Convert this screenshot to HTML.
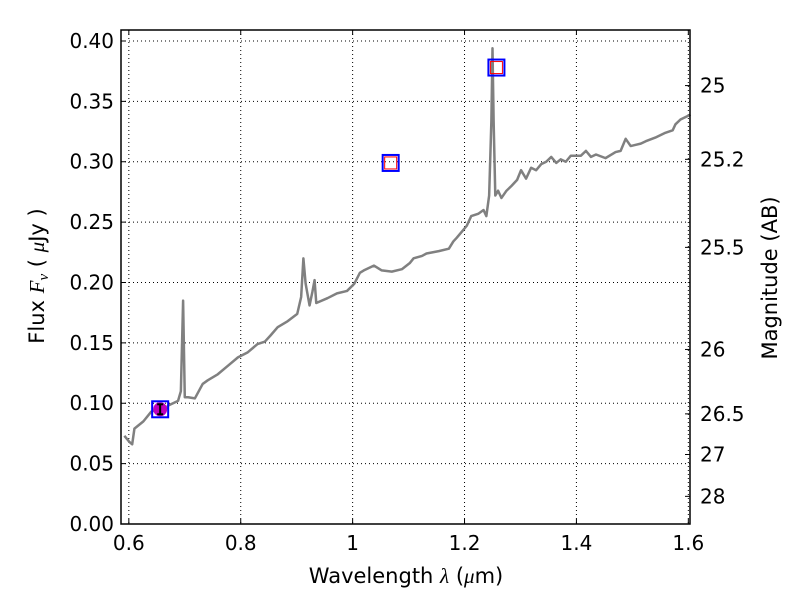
<!DOCTYPE html>
<html><head><meta charset="utf-8"><style>
body{margin:0;background:#fff}
svg text{font-family:"DejaVu Sans","Liberation Sans",sans-serif;fill:#000}
</style></head><body>
<svg id="c" width="800" height="600" viewBox="0 0 800 600"></svg>
<script>
const wave=[0.592,0.601,0.606,0.610,0.626,0.640,0.652,0.661,0.670,0.679,0.688,0.693,0.697,0.700,0.706,0.718,0.725,0.732,0.741,0.759,0.777,0.795,0.812,0.830,0.843,0.853,0.866,0.884,0.901,0.908,0.912,0.916,0.923,0.928,0.932,0.935,0.955,0.972,0.990,1.003,1.013,1.020,1.038,1.052,1.070,1.088,1.102,1.109,1.124,1.132,1.154,1.172,1.180,1.186,1.195,1.204,1.212,1.225,1.234,1.239,1.244,1.248,1.250,1.252,1.255,1.260,1.266,1.275,1.284,1.294,1.301,1.310,1.319,1.328,1.337,1.346,1.355,1.364,1.372,1.381,1.390,1.408,1.417,1.426,1.435,1.452,1.470,1.479,1.488,1.497,1.515,1.524,1.541,1.559,1.572,1.577,1.586,1.604];
const flux=[0.073,0.068,0.066,0.079,0.085,0.093,0.095,0.091,0.098,0.100,0.102,0.110,0.185,0.105,0.105,0.104,0.110,0.116,0.119,0.124,0.131,0.138,0.142,0.149,0.151,0.156,0.163,0.168,0.174,0.188,0.220,0.199,0.181,0.192,0.202,0.183,0.187,0.191,0.193,0.199,0.208,0.210,0.214,0.210,0.209,0.211,0.216,0.220,0.222,0.224,0.226,0.228,0.234,0.237,0.242,0.247,0.255,0.257,0.260,0.255,0.272,0.334,0.394,0.334,0.272,0.276,0.270,0.276,0.280,0.285,0.293,0.286,0.295,0.293,0.298,0.300,0.304,0.299,0.302,0.300,0.305,0.305,0.309,0.304,0.306,0.303,0.308,0.309,0.319,0.313,0.315,0.317,0.320,0.324,0.326,0.331,0.335,0.339];
const photWave=[0.656,1.068,1.257];
const photFlux=[0.095,0.299,0.378];
const modelFlux=[0.095,0.299,0.378];
const yTicks=[0,0.05,0.10,0.15,0.20,0.25,0.30,0.35,0.40];
const yLabels=["0.00","0.05","0.10","0.15","0.20","0.25","0.30","0.35","0.40"];
const xTicks=[0.6,0.8,1.0,1.2,1.4,1.6];
const xLabels=["0.6","0.8","1","1.2","1.4","1.6"];
const magTicks=[25,25.2,25.5,26,26.5,27,28];
const magLabels=["25","25.2","25.5","26","26.5","27","28"];

const L=121,R=690,T=30,B=524,X0=0.586,X1=1.603,Y0=0,Y1=0.4091;
const sx=v=>L+(v-X0)/(X1-X0)*(R-L);
const sy=v=>B-(v-Y0)/(Y1-Y0)*(B-T);
const svg=document.getElementById('c');
const NS='http://www.w3.org/2000/svg';
function mk(t,a,p){const e=document.createElementNS(NS,t);for(const k in a)e.setAttribute(k,a[k]);(p||svg).appendChild(e);return e;}

xTicks.forEach((v,i)=>{const x=sx(v);
 const g=mk('line',{x1:x,x2:x,y1:T,y2:B,stroke:'#000','stroke-dasharray':'1,3','stroke-width':1});
 
 
 mk('line',{x1:x,x2:x,y1:B,y2:B-5,stroke:'#000'});
 mk('line',{x1:x,x2:x,y1:T,y2:T+5,stroke:'#000'});
 const t=mk('text',{x:x,y:B+26,'font-size':20,'text-anchor':'middle'});t.textContent=xLabels[i];
 
 
});
yTicks.forEach((v,i)=>{const y=sy(v);
 const g=mk('line',{x1:L,x2:R,y1:y,y2:y,stroke:'#000','stroke-dasharray':'1,3','stroke-width':1});
 
 
 mk('line',{x1:L,x2:L+5,y1:y,y2:y,stroke:'#000'});
 const t=mk('text',{x:L-7,y:y+7,'font-size':20,'text-anchor':'end'});t.textContent=yLabels[i];
 
 
});
magTicks.forEach((m,i)=>{const y=sy(Math.pow(10,(23.9-m)/2.5));
 mk('line',{x1:R,x2:R-5,y1:y,y2:y,stroke:'#000'});
 const t=mk('text',{x:R+10,y:y+7,'font-size':20});t.textContent=magLabels[i];
 
 
});
const pl=mk('polyline',{points:wave.map((w,i)=>sx(w)+','+sy(flux[i])).join(' '),fill:'none',stroke:'#808080','stroke-width':2.5,'stroke-linejoin':'round'});


photWave.forEach((w,i)=>{const x=sx(w),y=sy(photFlux[i]),ym=sy(modelFlux[i]);
 if(i===0){
  const c=mk('circle',{cx:x,cy:y,r:7,fill:'#bf00bf'});
  
  
  mk('line',{x1:x,x2:x,y1:y-5,y2:y+5,stroke:'#000','stroke-width':2});
  mk('line',{x1:x-3,x2:x+3,y1:y-5,y2:y-5,stroke:'#000','stroke-width':2});
  mk('line',{x1:x-3,x2:x+3,y1:y+5,y2:y+5,stroke:'#000','stroke-width':2});
 } else {
  const r=mk('rect',{x:x-6,y:y-6,width:12,height:12,fill:'none',stroke:'#f00','stroke-width':1});
  
  
 }
 const b=mk('rect',{x:x-8,y:ym-8,width:16,height:16,fill:'none',stroke:'#00f','stroke-width':2});
 
 
});
const fr=mk('rect',{x:L,y:T,width:R-L,height:B-T,fill:'none',stroke:'#000','stroke-width':1.5});


</script>
<svg width="800" height="600" style="position:absolute;left:0;top:0">
<text x="406" y="583" font-size="21" text-anchor="middle">Wavelength  <tspan font-style="italic" font-family="Liberation Serif">λ</tspan> (<tspan font-style="italic" font-family="Liberation Serif">μ</tspan>m)</text>
<text transform="translate(44,276) rotate(-90)" font-size="21" text-anchor="middle">Flux  <tspan font-style="italic" font-family="Liberation Serif">F<tspan font-size="15" dy="4">ν</tspan></tspan><tspan dy="-4">  (  </tspan><tspan font-style="italic" font-family="Liberation Serif">μ</tspan>Jy )</text>
<text transform="translate(777,278) rotate(-90)" font-size="21" text-anchor="middle">Magnitude (AB)</text>
</svg>
</body></html>
